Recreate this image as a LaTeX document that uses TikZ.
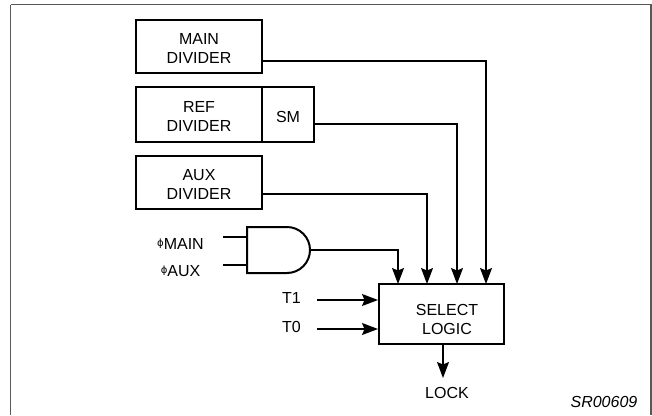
\documentclass[tikz,border=0pt]{standalone}
\usepackage{fontspec}
\setmainfont{Liberation Sans}
\newfontfamily\phifont{DejaVu Sans}
\usetikzlibrary{arrows.meta}
\begin{document}
\begin{tikzpicture}[x=1pt,y=-1pt,
  every node/.style={font=\fontsize{16}{19}\selectfont, inner sep=0pt, align=center},
  blockbox/.style={draw, line width=2pt, minimum width=126pt},
  wire/.style={line width=1.1pt},
  arr/.style={wire, -{Stealth[length=16pt,width=12pt,inset=2.5pt]}}]
\useasboundingbox (0,0) rectangle (652,415);
\draw[line width=1.3pt, gray!70!black] (10.5,4.5) -- (651,4.5) -- (651,415) (10.5,4.5) -- (10.5,415);
% blocks
\node[blockbox, minimum height=53pt] (main) at (199,46.5) {};
\node at (199,48) {MAIN\\DIVIDER};
\node[blockbox, minimum height=55pt] (ref) at (199,114.5) {};
\node at (199,116.5) {REF\\DIVIDER};
\node[draw, line width=2pt, minimum width=52pt, minimum height=55pt] (sm) at (288,114.5) {};
\node at (288,117) {SM};
\node[blockbox, minimum height=53pt] (aux) at (199,182.5) {};
\node at (199,184) {AUX\\DIVIDER};
\node[draw, line width=2pt, minimum width=125pt, minimum height=60pt] (sel) at (441.5,314) {};
\node at (447,319) {SELECT\\LOGIC};
% AND gate
\draw[line width=2pt] (247,227) -- (287,227) arc[start angle=-90, end angle=90, radius=23] -- (247,273) -- cycle;
\coordinate (andout) at (310,250);
\coordinate (in1) at (247,237);
\coordinate (in2) at (247,265);
\coordinate (in1s) at (223,237);
\coordinate (in2s) at (223,265);
\draw[wire] (in1s) -- (in1);
\draw[wire] (in2s) -- (in2);
\node (pmain) at (180.5,244) {\raisebox{3pt}{\phifont\fontsize{10}{10}\selectfont ϕ}MAIN};
\node (paux) at (180.5,271) {\raisebox{3pt}{\phifont\fontsize{10}{10}\selectfont ϕ}AUX};
% wire coordinates
\coordinate (m1) at (262,61);
\coordinate (r1) at (314,124);
\coordinate (a1) at (262,194);
\coordinate (s1) at (398,284);
\coordinate (s2) at (427,284);
\coordinate (s3) at (457,284);
\coordinate (s4) at (486,284);
\draw[arr] (m1) -| (s4);
\draw[arr] (r1) -| (s3);
\draw[arr] (a1) -| (s2);
\draw[arr] (andout) -| (s1);
% T inputs
\node[anchor=east] (t1) at (301,298) {T1};
\node[anchor=east] (t0) at (301,327) {T0};
\coordinate (t1s) at (317,300);
\coordinate (t0s) at (317,329);
\draw[arr] (t1s) -- (t1s -| sel.west);
\draw[arr] (t0s) -- (t0s -| sel.west);
% lock
\node (lock) at (447,392.5) {LOCK};
\coordinate (lk) at (443,344);
\coordinate (lke) at (443,378);
\draw[arr] (lk) -- (lke);
\node[font=\fontsize{16}{19}\selectfont\itshape, anchor=east] (sr) at (637.5,402) {SR00609};
\end{tikzpicture}
\end{document}
